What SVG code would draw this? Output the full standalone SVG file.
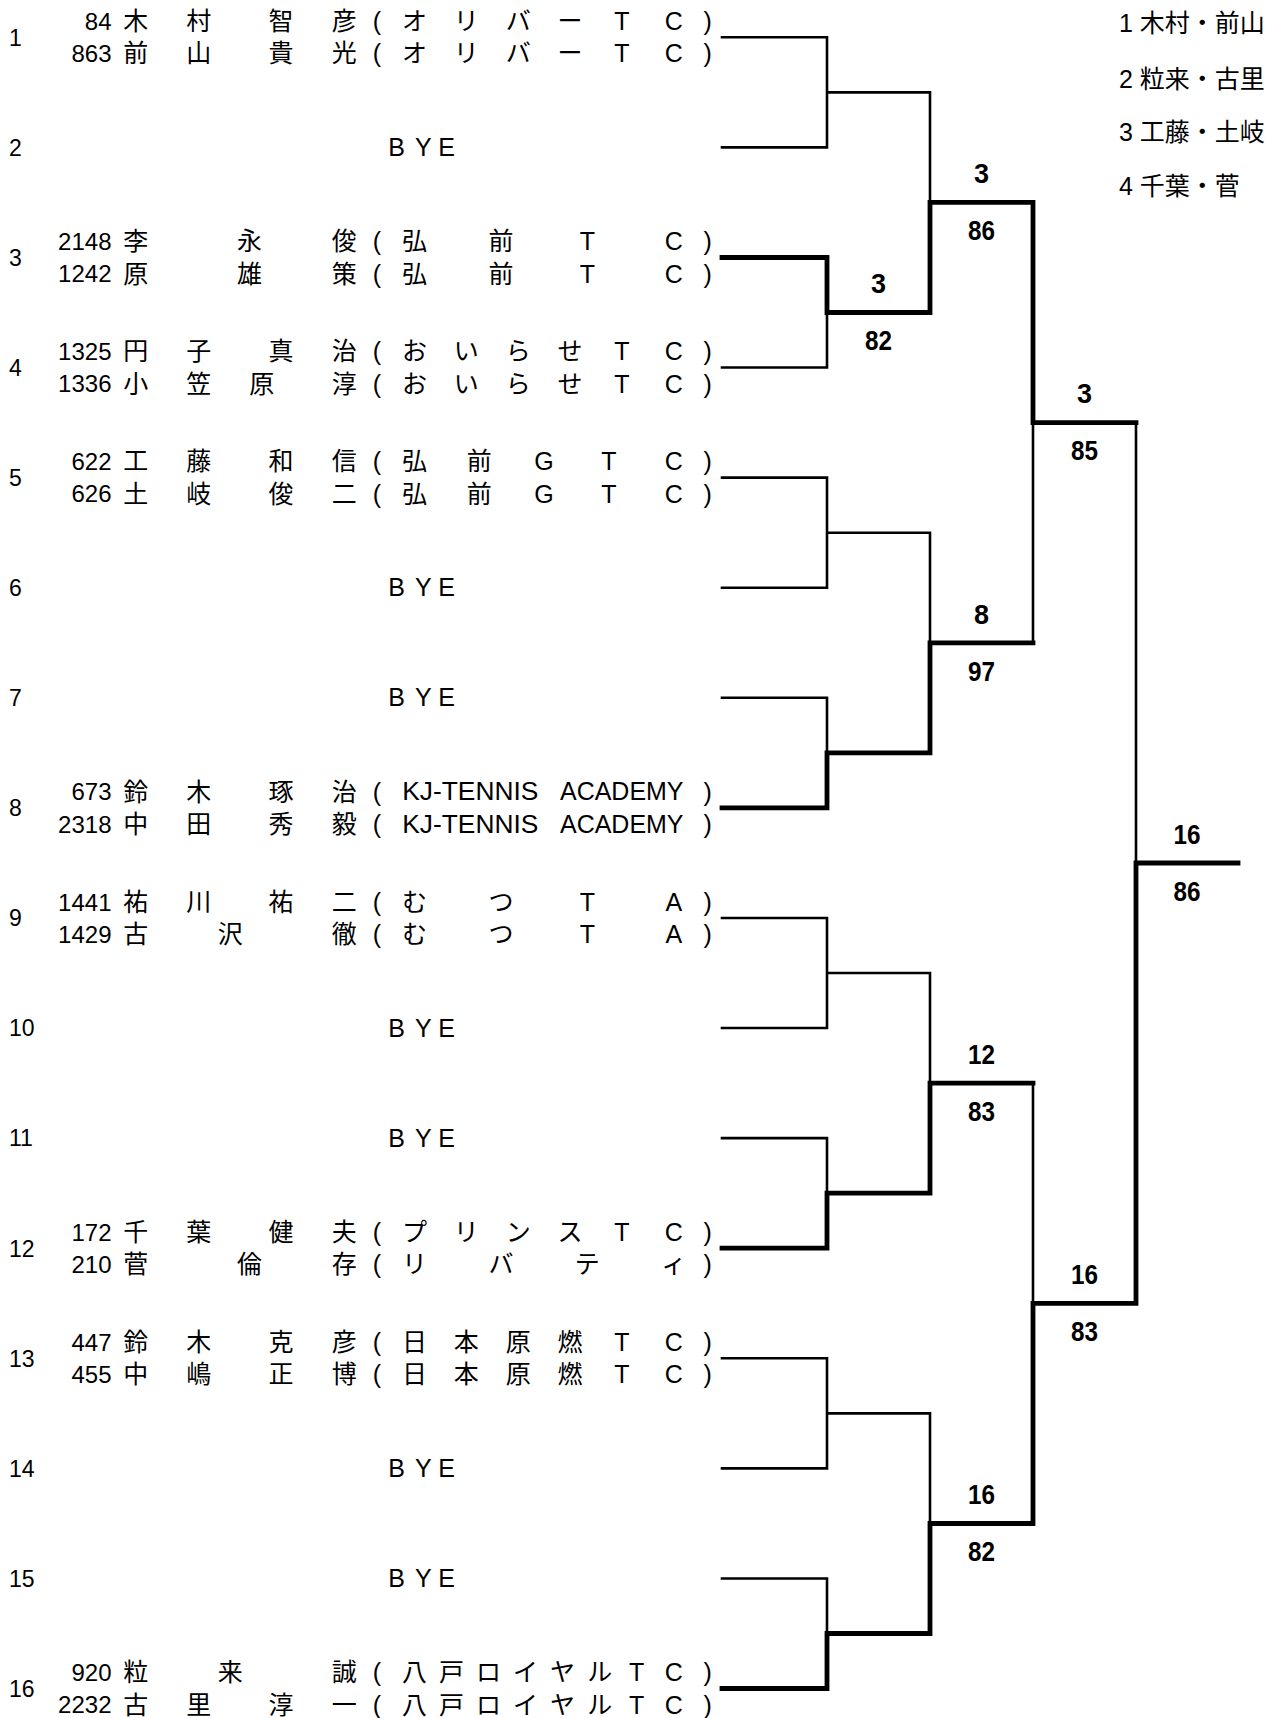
<svg xmlns="http://www.w3.org/2000/svg" width="1278" height="1718" viewBox="0 0 1278 1718">
<style>
.t{font-family:"Liberation Sans","Noto Sans CJK JP",sans-serif;font-size:25px;fill:#000}
.t tspan{text-anchor:middle}
.id{text-anchor:end;font-size:24px}
.no{font-family:"Liberation Sans",sans-serif;font-size:23px;fill:#000}
.lg{font-family:"Liberation Sans","Noto Sans CJK JP",sans-serif;font-size:25px;fill:#000}
.lab{font-family:"Liberation Sans",sans-serif;font-weight:bold;font-size:27px;text-anchor:middle;fill:#000}
.th{stroke:#000;stroke-width:2.6;fill:none;stroke-linecap:square}
.tk{stroke:#000;stroke-width:4.8;fill:none;stroke-linecap:square}
</style>
<rect width="1278" height="1718" fill="#fff"/>

<g id="legend">
<text class="lg" x="1119" y="31.6">1 木村・前山</text>
<text class="lg" x="1119" y="87.6">2 粒来・古里</text>
<text class="lg" x="1119" y="141.1">3 工藤・土岐</text>
<text class="lg" x="1119" y="194.6">4 千葉・菅</text>
</g>

<g id="entry1">
<text class="no" x="9" y="45.6">1</text>
<text class="t id" x="111.5" y="29.8">84</text>
<text class="t" y="30"><tspan x="135.7">木</tspan><tspan x="198.7">村</tspan><tspan x="281.1">智</tspan><tspan x="344.2">彦</tspan><tspan x="377">(</tspan><tspan x="414.4">オ</tspan><tspan x="466.3">リ</tspan><tspan x="518.2">バ</tspan><tspan x="570">ー</tspan><tspan x="621.9">T</tspan><tspan x="673.8">C</tspan><tspan x="707.7">)</tspan></text>
<text class="t id" x="111.5" y="62.1">863</text>
<text class="t" y="62.3"><tspan x="135.7">前</tspan><tspan x="198.7">山</tspan><tspan x="281.1">貴</tspan><tspan x="344.2">光</tspan><tspan x="377">(</tspan><tspan x="414.4">オ</tspan><tspan x="466.3">リ</tspan><tspan x="518.2">バ</tspan><tspan x="570">ー</tspan><tspan x="621.9">T</tspan><tspan x="673.8">C</tspan><tspan x="707.7">)</tspan></text>
</g>

<g id="entry2">
<text class="no" x="9" y="155.7">2</text>
<text class="t" y="156"><tspan x="396.7">B</tspan><tspan x="423.3">Y</tspan><tspan x="446.7">E</tspan></text>
</g>

<g id="entry3">
<text class="no" x="9" y="265.8">3</text>
<text class="t id" x="111.5" y="250">2148</text>
<text class="t" y="250.2"><tspan x="135.7">李</tspan><tspan x="249.6">永</tspan><tspan x="344.2">俊</tspan><tspan x="377">(</tspan><tspan x="414.4">弘</tspan><tspan x="500.9">前</tspan><tspan x="587.3">T</tspan><tspan x="673.8">C</tspan><tspan x="707.7">)</tspan></text>
<text class="t id" x="111.5" y="282.3">1242</text>
<text class="t" y="282.5"><tspan x="135.7">原</tspan><tspan x="249.6">雄</tspan><tspan x="344.2">策</tspan><tspan x="377">(</tspan><tspan x="414.4">弘</tspan><tspan x="500.9">前</tspan><tspan x="587.3">T</tspan><tspan x="673.8">C</tspan><tspan x="707.7">)</tspan></text>
</g>

<g id="entry4">
<text class="no" x="9" y="375.8">4</text>
<text class="t id" x="111.5" y="360">1325</text>
<text class="t" y="360.2"><tspan x="135.7">円</tspan><tspan x="198.7">子</tspan><tspan x="281.1">真</tspan><tspan x="344.2">治</tspan><tspan x="377">(</tspan><tspan x="414.4">お</tspan><tspan x="466.3">い</tspan><tspan x="518.2">ら</tspan><tspan x="570">せ</tspan><tspan x="621.9">T</tspan><tspan x="673.8">C</tspan><tspan x="707.7">)</tspan></text>
<text class="t id" x="111.5" y="392.3">1336</text>
<text class="t" y="392.5"><tspan x="135.7">小</tspan><tspan x="198.7">笠</tspan><tspan x="261.8">原</tspan><tspan x="344.2">淳</tspan><tspan x="377">(</tspan><tspan x="414.4">お</tspan><tspan x="466.3">い</tspan><tspan x="518.2">ら</tspan><tspan x="570">せ</tspan><tspan x="621.9">T</tspan><tspan x="673.8">C</tspan><tspan x="707.7">)</tspan></text>
</g>

<g id="entry5">
<text class="no" x="9" y="485.9">5</text>
<text class="t id" x="111.5" y="470.1">622</text>
<text class="t" y="470.3"><tspan x="135.7">工</tspan><tspan x="198.7">藤</tspan><tspan x="281.1">和</tspan><tspan x="344.2">信</tspan><tspan x="377">(</tspan><tspan x="414.4">弘</tspan><tspan x="479.3">前</tspan><tspan x="544.1">G</tspan><tspan x="609">T</tspan><tspan x="673.8">C</tspan><tspan x="707.7">)</tspan></text>
<text class="t id" x="111.5" y="502.4">626</text>
<text class="t" y="502.6"><tspan x="135.7">土</tspan><tspan x="198.7">岐</tspan><tspan x="281.1">俊</tspan><tspan x="344.2">二</tspan><tspan x="377">(</tspan><tspan x="414.4">弘</tspan><tspan x="479.3">前</tspan><tspan x="544.1">G</tspan><tspan x="609">T</tspan><tspan x="673.8">C</tspan><tspan x="707.7">)</tspan></text>
</g>

<g id="entry6">
<text class="no" x="9" y="596">6</text>
<text class="t" y="596.3"><tspan x="396.7">B</tspan><tspan x="423.3">Y</tspan><tspan x="446.7">E</tspan></text>
</g>

<g id="entry7">
<text class="no" x="9" y="706.1">7</text>
<text class="t" y="706.4"><tspan x="396.7">B</tspan><tspan x="423.3">Y</tspan><tspan x="446.7">E</tspan></text>
</g>

<g id="entry8">
<text class="no" x="9" y="816.2">8</text>
<text class="t id" x="111.5" y="800.4">673</text>
<text class="t" y="800.6"><tspan x="135.7">鈴</tspan><tspan x="198.7">木</tspan><tspan x="281.1">琢</tspan><tspan x="344.2">治</tspan><tspan x="377">(</tspan><tspan x="707.7">)</tspan></text>
<text class="t" x="402.3" y="800.4" font-size="24" textLength="136" lengthAdjust="spacingAndGlyphs">KJ-TENNIS</text>
<text class="t" x="560" y="800.4" font-size="24" textLength="123.5" lengthAdjust="spacingAndGlyphs">ACADEMY</text>
<text class="t id" x="111.5" y="832.7">2318</text>
<text class="t" y="832.9"><tspan x="135.7">中</tspan><tspan x="198.7">田</tspan><tspan x="281.1">秀</tspan><tspan x="344.2">毅</tspan><tspan x="377">(</tspan><tspan x="707.7">)</tspan></text>
<text class="t" x="402.3" y="832.7" font-size="24" textLength="136" lengthAdjust="spacingAndGlyphs">KJ-TENNIS</text>
<text class="t" x="560" y="832.7" font-size="24" textLength="123.5" lengthAdjust="spacingAndGlyphs">ACADEMY</text>
</g>

<g id="entry9">
<text class="no" x="9" y="926.3">9</text>
<text class="t id" x="111.5" y="910.5">1441</text>
<text class="t" y="910.7"><tspan x="135.7">祐</tspan><tspan x="198.7">川</tspan><tspan x="281.1">祐</tspan><tspan x="344.2">二</tspan><tspan x="377">(</tspan><tspan x="414.4">む</tspan><tspan x="500.9">つ</tspan><tspan x="587.3">T</tspan><tspan x="673.8">A</tspan><tspan x="707.7">)</tspan></text>
<text class="t id" x="111.5" y="942.8">1429</text>
<text class="t" y="943"><tspan x="135.7">古</tspan><tspan x="230.3">沢</tspan><tspan x="344.2">徹</tspan><tspan x="377">(</tspan><tspan x="414.4">む</tspan><tspan x="500.9">つ</tspan><tspan x="587.3">T</tspan><tspan x="673.8">A</tspan><tspan x="707.7">)</tspan></text>
</g>

<g id="entry10">
<text class="no" x="9" y="1036.3">10</text>
<text class="t" y="1036.6"><tspan x="396.7">B</tspan><tspan x="423.3">Y</tspan><tspan x="446.7">E</tspan></text>
</g>

<g id="entry11">
<text class="no" x="9" y="1146.4">11</text>
<text class="t" y="1146.7"><tspan x="396.7">B</tspan><tspan x="423.3">Y</tspan><tspan x="446.7">E</tspan></text>
</g>

<g id="entry12">
<text class="no" x="9" y="1256.5">12</text>
<text class="t id" x="111.5" y="1240.7">172</text>
<text class="t" y="1240.9"><tspan x="135.7">千</tspan><tspan x="198.7">葉</tspan><tspan x="281.1">健</tspan><tspan x="344.2">夫</tspan><tspan x="377">(</tspan><tspan x="414.4">プ</tspan><tspan x="466.3">リ</tspan><tspan x="518.2">ン</tspan><tspan x="570">ス</tspan><tspan x="621.9">T</tspan><tspan x="673.8">C</tspan><tspan x="707.7">)</tspan></text>
<text class="t id" x="111.5" y="1273">210</text>
<text class="t" y="1273.2"><tspan x="135.7">菅</tspan><tspan x="249.6">倫</tspan><tspan x="344.2">存</tspan><tspan x="377">(</tspan><tspan x="414.4">リ</tspan><tspan x="500.9">バ</tspan><tspan x="587.3">テ</tspan><tspan x="673.8">ィ</tspan><tspan x="707.7">)</tspan></text>
</g>

<g id="entry13">
<text class="no" x="9" y="1366.6">13</text>
<text class="t id" x="111.5" y="1350.8">447</text>
<text class="t" y="1351"><tspan x="135.7">鈴</tspan><tspan x="198.7">木</tspan><tspan x="281.1">克</tspan><tspan x="344.2">彦</tspan><tspan x="377">(</tspan><tspan x="414.4">日</tspan><tspan x="466.3">本</tspan><tspan x="518.2">原</tspan><tspan x="570">燃</tspan><tspan x="621.9">T</tspan><tspan x="673.8">C</tspan><tspan x="707.7">)</tspan></text>
<text class="t id" x="111.5" y="1383.1">455</text>
<text class="t" y="1383.3"><tspan x="135.7">中</tspan><tspan x="198.7">嶋</tspan><tspan x="281.1">正</tspan><tspan x="344.2">博</tspan><tspan x="377">(</tspan><tspan x="414.4">日</tspan><tspan x="466.3">本</tspan><tspan x="518.2">原</tspan><tspan x="570">燃</tspan><tspan x="621.9">T</tspan><tspan x="673.8">C</tspan><tspan x="707.7">)</tspan></text>
</g>

<g id="entry14">
<text class="no" x="9" y="1476.7">14</text>
<text class="t" y="1477"><tspan x="396.7">B</tspan><tspan x="423.3">Y</tspan><tspan x="446.7">E</tspan></text>
</g>

<g id="entry15">
<text class="no" x="9" y="1586.8">15</text>
<text class="t" y="1587.1"><tspan x="396.7">B</tspan><tspan x="423.3">Y</tspan><tspan x="446.7">E</tspan></text>
</g>

<g id="entry16">
<text class="no" x="9" y="1696.8">16</text>
<text class="t id" x="111.5" y="1681">920</text>
<text class="t" y="1681.2"><tspan x="135.7">粒</tspan><tspan x="230.3">来</tspan><tspan x="344.2">誠</tspan><tspan x="377">(</tspan><tspan x="414.4">八</tspan><tspan x="451.5">戸</tspan><tspan x="488.5">ロ</tspan><tspan x="525.6">イ</tspan><tspan x="562.6">ヤ</tspan><tspan x="599.7">ル</tspan><tspan x="636.7">T</tspan><tspan x="673.8">C</tspan><tspan x="707.7">)</tspan></text>
<text class="t id" x="111.5" y="1713.3">2232</text>
<text class="t" y="1713.5"><tspan x="135.7">古</tspan><tspan x="198.7">里</tspan><tspan x="281.1">淳</tspan><tspan x="344.2">一</tspan><tspan x="377">(</tspan><tspan x="414.4">八</tspan><tspan x="451.5">戸</tspan><tspan x="488.5">ロ</tspan><tspan x="525.6">イ</tspan><tspan x="562.6">ヤ</tspan><tspan x="599.7">ル</tspan><tspan x="636.7">T</tspan><tspan x="673.8">C</tspan><tspan x="707.7">)</tspan></text>
</g>

<g id="connectors">
<path class="th" d="M722 37.3H827V147.4H722M722 367.5H827V312.5M827 92.4H930V202.4"/>
<path class="th" d="M722 477.6H827V587.7H722M722 697.8H827V752.9M827 532.7H930V642.8"/>
<path class="th" d="M722 918H827V1028H722M722 1138.1H827V1193.2M827 973H930V1083.1"/>
<path class="th" d="M722 1358.3H827V1468.4H722M722 1578.5H827V1633.5M827 1413.4H930V1523.5"/>
<path class="th" d="M1033 422.6V642.8M1033 1083.1V1303.3M1136 422.6V863"/>
<path class="tk" d="M722 257.5H827V312.5H930V202.4H1033V422.6H1136"/>
<path class="tk" d="M722 807.9H827V752.9H930V642.8H1033"/>
<path class="tk" d="M722 1248.2H827V1193.2H930V1083.1H1033"/>
<path class="tk" d="M722 1688.5H827V1633.5H930V1523.5H1033V1303.3H1136V863H1238"/>
</g>

<g id="scores">
<text class="lab" x="878.5" y="293.2">3</text>
<text class="lab" x="878.5" y="350.2" textLength="27" lengthAdjust="spacingAndGlyphs">82</text>
<text class="lab" x="981.5" y="183.1">3</text>
<text class="lab" x="981.5" y="240.1" textLength="27" lengthAdjust="spacingAndGlyphs">86</text>
<text class="lab" x="981.5" y="623.5">8</text>
<text class="lab" x="981.5" y="680.5" textLength="27" lengthAdjust="spacingAndGlyphs">97</text>
<text class="lab" x="1084.5" y="403.3">3</text>
<text class="lab" x="1084.5" y="460.3" textLength="27" lengthAdjust="spacingAndGlyphs">85</text>
<text class="lab" x="1187" y="843.7" textLength="27" lengthAdjust="spacingAndGlyphs">16</text>
<text class="lab" x="1187" y="900.7" textLength="27" lengthAdjust="spacingAndGlyphs">86</text>
<text class="lab" x="981.5" y="1063.8" textLength="27" lengthAdjust="spacingAndGlyphs">12</text>
<text class="lab" x="981.5" y="1120.8" textLength="27" lengthAdjust="spacingAndGlyphs">83</text>
<text class="lab" x="1084.5" y="1284" textLength="27" lengthAdjust="spacingAndGlyphs">16</text>
<text class="lab" x="1084.5" y="1341" textLength="27" lengthAdjust="spacingAndGlyphs">83</text>
<text class="lab" x="981.5" y="1504.2" textLength="27" lengthAdjust="spacingAndGlyphs">16</text>
<text class="lab" x="981.5" y="1561.2" textLength="27" lengthAdjust="spacingAndGlyphs">82</text>
</g>
</svg>
